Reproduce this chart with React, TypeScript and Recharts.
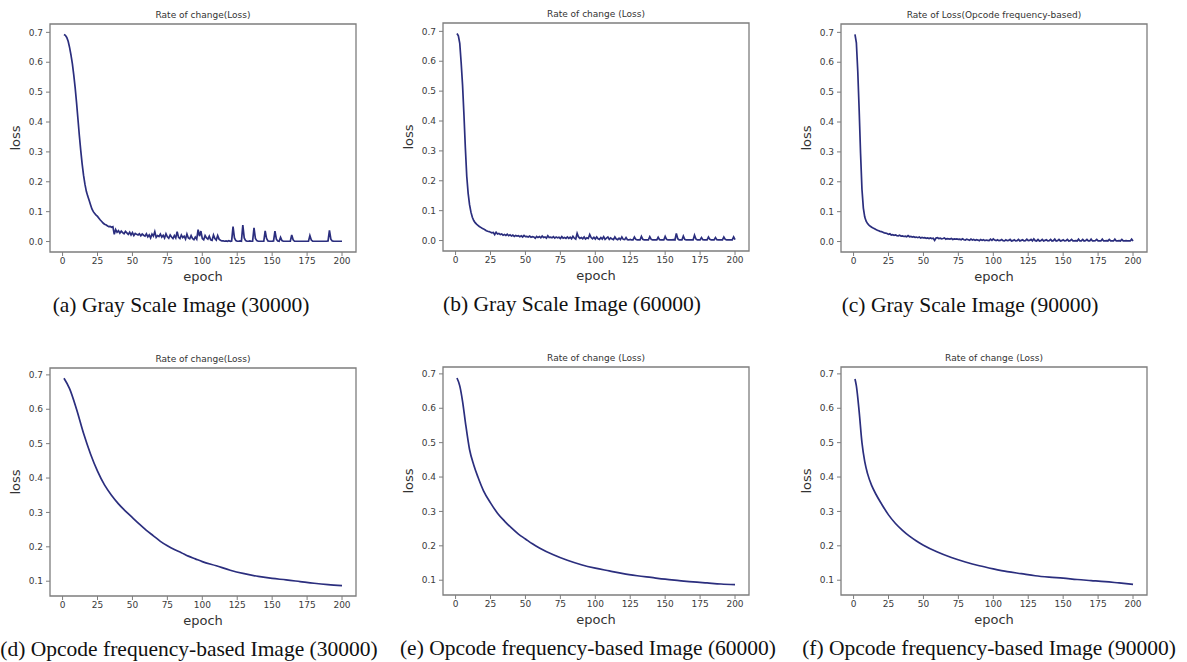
import { LineChart, Line, XAxis, YAxis, ReferenceArea } from "recharts";

// epochs 1..200 for the per-epoch (noisy) gray scale runs
const epochs = Array.from({ length: 200 }, (_, i) => i + 1);

const lossGray30k = [
  0.693, 0.69, 0.683, 0.67, 0.65, 0.625, 0.595, 0.558, 0.515, 0.465,
  0.41, 0.355, 0.305, 0.26, 0.222, 0.192, 0.168, 0.152, 0.138, 0.123,
  0.109, 0.1, 0.094, 0.088, 0.084, 0.078, 0.072, 0.067, 0.062, 0.058,
  0.056, 0.053, 0.05, 0.051, 0.048, 0.05, 0.024, 0.04, 0.031, 0.036,
  0.028, 0.035, 0.03, 0.026, 0.034, 0.029, 0.024, 0.031, 0.022, 0.03,
  0.02, 0.027, 0.024, 0.022, 0.026, 0.019, 0.025, 0.021, 0.018, 0.026,
  0.016, 0.022, 0.012, 0.025, 0.018, 0.033, 0.014, 0.02, 0.017, 0.025,
  0.015, 0.021, 0.012, 0.026, 0.016, 0.011, 0.022, 0.015, 0.01, 0.02,
  0.012, 0.033, 0.014, 0.01, 0.022, 0.013, 0.018, 0.008, 0.025, 0.012,
  0.009, 0.02, 0.01, 0.006, 0.015, 0.008, 0.04, 0.018, 0.035, 0.01,
  0.006, 0.02, 0.012, 0.008, 0.018, 0.006, 0.004, 0.022, 0.01, 0.005,
  0.02, 0.008, 0.004, 0.002, 0.002, 0.001, 0.002, 0.001, 0.003, 0.001,
  0.002, 0.05, 0.012, 0.003, 0.001, 0.001, 0.002, 0.001, 0.055, 0.012,
  0.003, 0.001, 0.001, 0.002, 0.001, 0.001, 0.046, 0.01, 0.003, 0.001,
  0.001, 0.001, 0.001, 0.001, 0.036, 0.01, 0.002, 0.001, 0.001, 0.001,
  0.002, 0.035, 0.008, 0.002, 0.001, 0.014, 0.003, 0.001, 0.001, 0.001,
  0.001, 0.001, 0.001, 0.022, 0.006, 0.001, 0.001, 0.001, 0.001, 0.001,
  0.001, 0.001, 0.001, 0.001, 0.001, 0.001, 0.02, 0.005, 0.001, 0.001,
  0.001, 0.001, 0.001, 0.001, 0.001, 0.001, 0.001, 0.001, 0.001, 0.002,
  0.037, 0.008, 0.002, 0.001, 0.001, 0.001, 0.001, 0.001, 0.001, 0.001,
];

const lossGray60k = [
  0.693, 0.685, 0.66, 0.595, 0.52, 0.42, 0.31, 0.215, 0.158, 0.12,
  0.095, 0.078, 0.067, 0.06, 0.055, 0.051, 0.047, 0.044, 0.041, 0.039,
  0.036, 0.033, 0.031, 0.03, 0.028, 0.026, 0.027, 0.02, 0.028, 0.022,
  0.024, 0.02, 0.022, 0.018, 0.02, 0.017, 0.021, 0.016, 0.019, 0.015,
  0.018, 0.014, 0.017, 0.015, 0.016, 0.013, 0.016, 0.012, 0.017, 0.013,
  0.014, 0.012, 0.015, 0.011, 0.013, 0.012, 0.008, 0.014, 0.01, 0.013,
  0.009, 0.015, 0.01, 0.012, 0.008, 0.016, 0.01, 0.011, 0.009, 0.013,
  0.008, 0.012, 0.009, 0.011, 0.007, 0.013, 0.008, 0.01, 0.007, 0.012,
  0.007, 0.011, 0.006, 0.014, 0.008, 0.005, 0.024, 0.012, 0.007, 0.01,
  0.006, 0.012, 0.005, 0.009, 0.007, 0.02, 0.01, 0.006, 0.011, 0.005,
  0.012, 0.006, 0.004, 0.01, 0.005, 0.013, 0.004, 0.008, 0.012, 0.004,
  0.009, 0.005, 0.003, 0.012, 0.005, 0.003, 0.008, 0.003, 0.012, 0.004,
  0.003, 0.01, 0.003, 0.002, 0.004, 0.002, 0.002, 0.012, 0.004, 0.002,
  0.002, 0.002, 0.014, 0.004, 0.002, 0.002, 0.002, 0.002, 0.013, 0.004,
  0.002, 0.002, 0.002, 0.002, 0.011, 0.003, 0.002, 0.002, 0.002, 0.014,
  0.004, 0.002, 0.002, 0.002, 0.002, 0.003, 0.002, 0.024, 0.006, 0.002,
  0.002, 0.002, 0.015, 0.004, 0.002, 0.002, 0.002, 0.002, 0.002, 0.002,
  0.018, 0.005, 0.002, 0.002, 0.002, 0.01, 0.003, 0.002, 0.002, 0.002,
  0.012, 0.004, 0.002, 0.002, 0.002, 0.01, 0.003, 0.002, 0.002, 0.002,
  0.002, 0.012, 0.004, 0.002, 0.002, 0.002, 0.002, 0.002, 0.012, 0.003,
];

const lossGray90k = [
  0.693, 0.665, 0.57, 0.44, 0.295, 0.175, 0.112, 0.082, 0.068, 0.06,
  0.055, 0.051, 0.048, 0.045, 0.043, 0.04, 0.038, 0.036, 0.034, 0.033,
  0.031, 0.029, 0.028, 0.027, 0.024, 0.026, 0.022, 0.023, 0.021, 0.022,
  0.02, 0.019, 0.021, 0.018, 0.019, 0.017, 0.018, 0.016, 0.02, 0.016,
  0.017, 0.015, 0.016, 0.014, 0.015, 0.013, 0.015, 0.012, 0.014, 0.012,
  0.013, 0.011, 0.012, 0.01, 0.012, 0.01, 0.011, 0.004, 0.012, 0.013,
  0.01, 0.011, 0.009, 0.01, 0.012, 0.008, 0.01, 0.009, 0.008, 0.01,
  0.007, 0.009, 0.008, 0.009, 0.007, 0.008, 0.006, 0.009, 0.006, 0.005,
  0.008, 0.006, 0.004, 0.008, 0.005, 0.007, 0.004, 0.006, 0.005, 0.003,
  0.007, 0.004, 0.006, 0.003, 0.005, 0.004, 0.003, 0.008, 0.004, 0.009,
  0.005, 0.003, 0.006, 0.003, 0.004, 0.007, 0.003, 0.002, 0.006, 0.003,
  0.004, 0.007, 0.002, 0.003, 0.006, 0.002, 0.003, 0.007, 0.002, 0.004,
  0.006, 0.002, 0.003, 0.008, 0.003, 0.004, 0.007, 0.002, 0.009, 0.003,
  0.002, 0.007, 0.002, 0.003, 0.007, 0.002, 0.004, 0.006, 0.002, 0.003,
  0.007, 0.002, 0.003, 0.008, 0.002, 0.003, 0.007, 0.002, 0.003, 0.006,
  0.002, 0.003, 0.007, 0.002, 0.003, 0.007, 0.002, 0.002, 0.003, 0.002,
  0.008, 0.002, 0.002, 0.007, 0.002, 0.003, 0.007, 0.002, 0.002, 0.008,
  0.002, 0.002, 0.003, 0.007, 0.002, 0.002, 0.002, 0.008, 0.002, 0.002,
  0.003, 0.002, 0.007, 0.002, 0.002, 0.002, 0.008, 0.002, 0.002, 0.003,
  0.002, 0.007, 0.002, 0.002, 0.003, 0.002, 0.002, 0.002, 0.008, 0.002,
];

// opcode frequency-based runs are smooth, so sampled epochs are enough
const epochsOp30k = [1, 5, 10, 15, 20, 25, 30, 35, 40, 45, 50, 55, 60, 65, 70, 75, 80, 85, 90, 95, 100, 110, 120, 130, 140, 150, 160, 170, 180, 190, 200];
const lossOp30k = [0.69, 0.66, 0.6, 0.53, 0.47, 0.42, 0.38, 0.35, 0.325, 0.304, 0.285, 0.266, 0.248, 0.232, 0.216, 0.203, 0.192, 0.183, 0.173, 0.165, 0.157, 0.145, 0.132, 0.122, 0.114, 0.108, 0.104, 0.099, 0.094, 0.09, 0.087];

const epochsOp60k = [1, 3, 5, 7, 10, 13, 16, 20, 25, 30, 35, 40, 45, 50, 55, 60, 70, 80, 90, 100, 110, 120, 130, 140, 150, 160, 170, 180, 190, 200];
const lossOp60k = [0.688, 0.665, 0.62, 0.56, 0.48, 0.435, 0.4, 0.36, 0.325, 0.295, 0.272, 0.252, 0.234, 0.22, 0.206, 0.194, 0.174, 0.158, 0.145, 0.135, 0.127, 0.119, 0.113, 0.108, 0.103, 0.099, 0.095, 0.092, 0.089, 0.087];

const epochsOp90k = [1, 2, 4, 6, 8, 10, 13, 16, 20, 25, 30, 35, 40, 45, 50, 60, 70, 80, 90, 100, 110, 120, 130, 140, 150, 160, 170, 180, 190, 200];
const lossOp90k = [0.685, 0.665, 0.59, 0.5, 0.445, 0.41, 0.375, 0.35, 0.322, 0.29, 0.265, 0.245, 0.228, 0.214, 0.202, 0.182, 0.166, 0.153, 0.142, 0.133, 0.125, 0.119, 0.113, 0.109, 0.106, 0.102, 0.099, 0.096, 0.092, 0.088];

const xTicks = [0, 25, 50, 75, 100, 125, 150, 175, 200];
const yTicksTop = [0, 0.1, 0.2, 0.3, 0.4, 0.5, 0.6, 0.7];
const yTicksBottom = [0.1, 0.2, 0.3, 0.4, 0.5, 0.6, 0.7];

const LINE = "#2b2e7e";
const FRAME = "#7d7d7d";
const X_DOMAIN = [-9, 210];
const PLOT_W = 306;
const PLOT_H = 228;

type PanelProps = {
  title: string;
  caption: string;
  xs: number[];
  ys: number[];
  left: number;
  top: number;
  yDomain: number[];
  yTicks: number[];
  captionX: number;
  smooth?: boolean;
};

function Panel({ title, caption, xs, ys, left, top, yDomain, yTicks, captionX, smooth }: PanelProps) {
  const data = xs.map((x, i) => ({ epoch: x, loss: ys[i] }));
  const tickStyle = { fontSize: 9, fill: "#3a3a3a", fontFamily: "DejaVu Sans" };

  return (
    <>
      <div
        style={{
          position: "absolute",
          left,
          top: top - 15,
          width: PLOT_W,
          textAlign: "center",
          fontFamily: "DejaVu Sans",
          fontSize: 9,
          lineHeight: "12px",
          color: "#333",
          whiteSpace: "nowrap",
        }}
      >
        {title}
      </div>
      <div style={{ position: "absolute", left: left - 50, top: top - 24 }}>
        <LineChart
          width={390}
          height={290}
          data={data}
          margin={{ top: 24, right: 34, left: 10, bottom: 18 }}
        >
          <XAxis
            dataKey="epoch"
            type="number"
            domain={X_DOMAIN}
            ticks={xTicks}
            interval={0}
            allowDataOverflow
            axisLine={false}
            tickLine={{ stroke: FRAME }}
            tickSize={4}
            tickMargin={2}
            height={20}
            tick={tickStyle}
          />
          <YAxis
            type="number"
            domain={yDomain}
            ticks={yTicks}
            interval={0}
            allowDataOverflow
            axisLine={false}
            tickLine={{ stroke: FRAME }}
            tickSize={4}
            tickMargin={3}
            width={40}
            tick={tickStyle}
            tickFormatter={(v: number) => v.toFixed(1)}
          />
          <ReferenceArea
            x1={X_DOMAIN[0]}
            x2={X_DOMAIN[1]}
            y1={yDomain[0]}
            y2={yDomain[1]}
            fill="none"
            stroke={FRAME}
            strokeWidth={1.3}
          />
          <Line
            type={smooth ? "monotone" : "linear"}
            dataKey="loss"
            stroke={LINE}
            strokeWidth={1.7}
            dot={false}
            isAnimationActive={false}
          />
        </LineChart>
      </div>
      <div
        style={{
          position: "absolute",
          left,
          top: top + PLOT_H + 17,
          width: PLOT_W,
          textAlign: "center",
          fontFamily: "DejaVu Sans",
          fontSize: 13,
          lineHeight: "16px",
          color: "#333",
        }}
      >
        epoch
      </div>
      <div
        style={{
          position: "absolute",
          left: left - 34 - 50,
          top: top + PLOT_H / 2 - 8,
          width: 100,
          height: 16,
          textAlign: "center",
          fontFamily: "DejaVu Sans",
          fontSize: 13,
          lineHeight: "16px",
          color: "#333",
          transform: "rotate(-90deg)",
        }}
      >
        loss
      </div>
      <div
        style={{
          position: "absolute",
          left: captionX - 260,
          top: top + 281 - 13,
          width: 520,
          textAlign: "center",
          fontFamily: "Liberation Serif",
          fontSize: 21.5,
          lineHeight: "26px",
          color: "#111",
          whiteSpace: "nowrap",
        }}
      >
        {caption}
      </div>
    </>
  );
}

export default function App() {
  const topDomain = [-0.035, 0.728];
  const bottomDomain = [0.057, 0.72];

  return (
    <div
      style={{
        position: "absolute",
        left: 0,
        top: 0,
        width: 1187,
        height: 662,
        background: "#fff",
        overflow: "hidden",
      }}
    >
      <Panel
        title="Rate of change(Loss)"
        caption="(a) Gray Scale Image (30000)"
        xs={epochs}
        ys={lossGray30k}
        left={50}
        top={24}
        yDomain={topDomain}
        yTicks={yTicksTop}
        captionX={181}
      />
      <Panel
        title="Rate of change (Loss)"
        caption="(b) Gray Scale Image (60000)"
        xs={epochs}
        ys={lossGray60k}
        left={443}
        top={23}
        yDomain={topDomain}
        yTicks={yTicksTop}
        captionX={572}
      />
      <Panel
        title="Rate of Loss(Opcode frequency-based)"
        caption="(c) Gray Scale Image (90000)"
        xs={epochs}
        ys={lossGray90k}
        left={841}
        top={24}
        yDomain={topDomain}
        yTicks={yTicksTop}
        captionX={970}
      />
      <Panel
        title="Rate of change(Loss)"
        caption="(d) Opcode frequency-based Image (30000)"
        xs={epochsOp30k}
        ys={lossOp30k}
        left={50}
        top={368}
        yDomain={bottomDomain}
        yTicks={yTicksBottom}
        captionX={189}
        smooth
      />
      <Panel
        title="Rate of change (Loss)"
        caption="(e) Opcode frequency-based Image (60000)"
        xs={epochsOp60k}
        ys={lossOp60k}
        left={443}
        top={367}
        yDomain={bottomDomain}
        yTicks={yTicksBottom}
        captionX={588}
        smooth
      />
      <Panel
        title="Rate of change (Loss)"
        caption="(f) Opcode frequency-based Image (90000)"
        xs={epochsOp90k}
        ys={lossOp90k}
        left={841}
        top={367}
        yDomain={bottomDomain}
        yTicks={yTicksBottom}
        captionX={989}
        smooth
      />
    </div>
  );
}
